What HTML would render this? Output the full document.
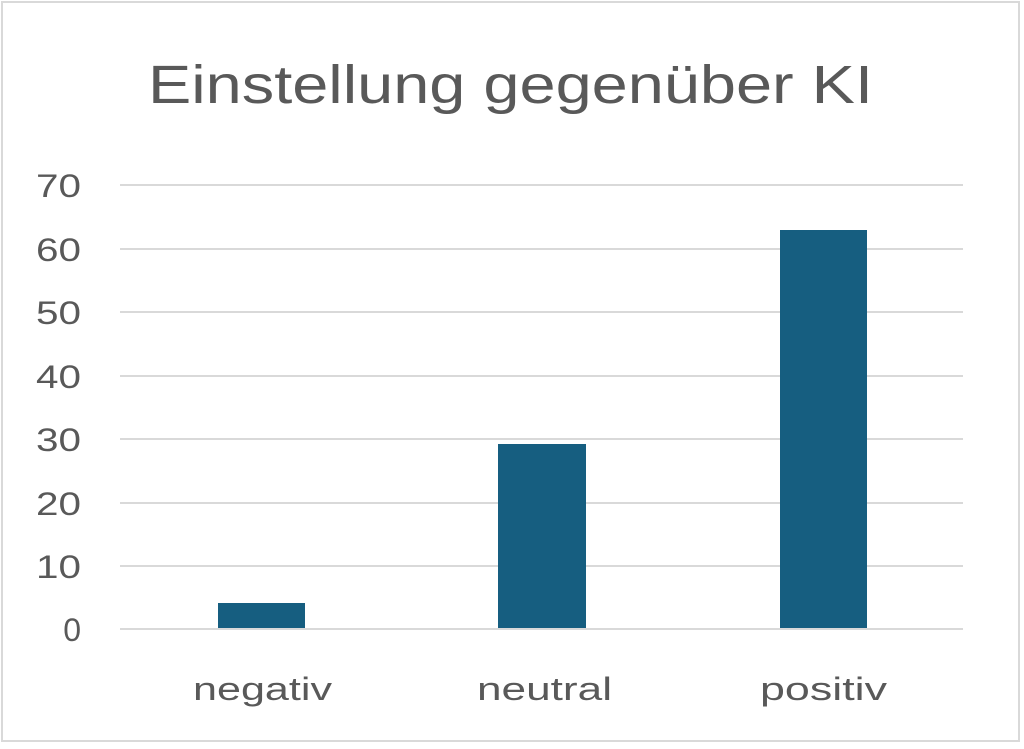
<!DOCTYPE html>
<html><head><meta charset="utf-8"><style>
html,body{margin:0;padding:0;background:#fff;}
svg{display:block;}
text{font-family:"Liberation Sans",sans-serif;fill:#595959;}
</style></head><body>
<svg width="1024" height="749" viewBox="0 0 1024 749">
<rect x="2" y="2" width="1017" height="739" fill="#fff" stroke="#d9d9d9" stroke-width="2"/>
<text x="148" y="103" font-size="54" textLength="725" lengthAdjust="spacingAndGlyphs">Einstellung gegenüber KI</text>
<g stroke="#d9d9d9" stroke-width="2">
<line x1="120" y1="185" x2="963" y2="185"/>
<line x1="120" y1="249" x2="963" y2="249"/>
<line x1="120" y1="312" x2="963" y2="312"/>
<line x1="120" y1="376" x2="963" y2="376"/>
<line x1="120" y1="439" x2="963" y2="439"/>
<line x1="120" y1="503" x2="963" y2="503"/>
<line x1="120" y1="566" x2="963" y2="566"/>
<line x1="120" y1="629" x2="963" y2="629"/>
</g>
<g font-size="32" text-anchor="end">
<text x="81" y="197" textLength="45" lengthAdjust="spacingAndGlyphs">70</text>
<text x="81" y="261" textLength="45" lengthAdjust="spacingAndGlyphs">60</text>
<text x="81" y="324" textLength="45" lengthAdjust="spacingAndGlyphs">50</text>
<text x="81" y="388" textLength="45" lengthAdjust="spacingAndGlyphs">40</text>
<text x="81" y="451" textLength="45" lengthAdjust="spacingAndGlyphs">30</text>
<text x="81" y="515" textLength="45" lengthAdjust="spacingAndGlyphs">20</text>
<text x="81" y="578" textLength="45" lengthAdjust="spacingAndGlyphs">10</text>
<text x="81" y="641">0</text>
</g>
<g fill="#165e80">
<rect x="218" y="603" width="87" height="25"/>
<rect x="498" y="444" width="88" height="184"/>
<rect x="780" y="230" width="87" height="398"/>
</g>
<g font-size="32">
<text x="193" y="700" textLength="139" lengthAdjust="spacingAndGlyphs">negativ</text>
<text x="477" y="700" textLength="135" lengthAdjust="spacingAndGlyphs">neutral</text>
<text x="760" y="700" textLength="127" lengthAdjust="spacingAndGlyphs">positiv</text>
</g>
</svg>
</body></html>
